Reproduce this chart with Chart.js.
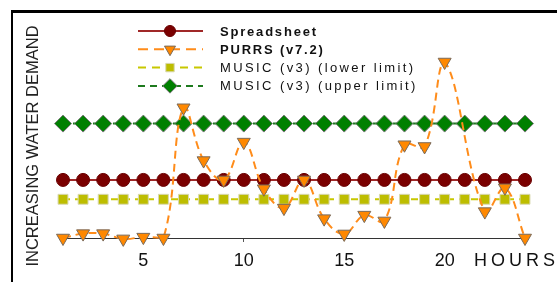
<!DOCTYPE html>
<html>
<head>
<meta charset="utf-8">
<script src="https://cdn.jsdelivr.net/npm/chart.js@4.4.0/dist/chart.umd.min.js"></script>
<style>
  html, body { margin: 0; padding: 0; background: #fff; overflow: hidden; }
  #wrap { position: relative; width: 557px; height: 282px; overflow: hidden; }
  #frame { position: absolute; left: 11px; top: 10px; width: 600px; height: 300px;
           border-left: 2px solid #000; border-top: 3px solid #000; }
  canvas { position: absolute; left: 0; top: 0; }
</style>
</head>
<body>
<div id="wrap">
  <div id="frame"></div>
  <canvas id="demandChart" width="557" height="282"></canvas>
</div>
<script>
// Hours on the x axis
const hours = [1, 2, 3, 4, 5, 6, 7, 8, 9, 10, 11, 12, 13, 14, 15, 16, 17, 18, 19, 20, 21, 22, 23, 24];
const xTickLabels = [5, 10, 15, 20];

// Relative water demand (no units in the source, 0 = baseline)
const spreadsheet = [33, 33, 33, 33, 33, 33, 33, 33, 33, 33, 33, 33, 33, 33, 33, 33, 33, 33, 33, 33, 33, 33, 33, 33];
const purrs = [0, 2.5, 2.5, -0.5, 0.5, 0, 74, 44, 33, 54.5, 28, 17, 33, 11, 2.3, 13, 9.7, 53, 52, 100, null, 15, 28.5, 0];
const musicLower = [22, 22, 22, 22, 22, 22, 22, 22, 22, 22, 22, 22, 22, 22, 22, 22, 22, 22, 22, 22, 22, 22, 22, 22];
const musicUpper = [65, 65, 65, 65, 65, 65, 65, 65, 65, 65, 65, 65, 65, 65, 65, 65, 65, 65, 65, 65, 65, 65, 65, 65];

const seriesNames = ['Spreadsheet', 'PURRS (v7.2)', 'MUSIC (v3) (lower limit)', 'MUSIC (v3) (upper limit)'];
const yTitle = 'INCREASING WATER DEMAND';
const xTitle = 'HOURS';

const FONT = '"Liberation Sans", Arial, sans-serif';

// draws the stacked legend, the rotated y title and the HOURS label
const annotate = {
    id: 'annotate',
    afterDraw(chart) {
        const ctx = chart.ctx;
        const drawPoint = Chart.helpers && Chart.helpers.drawPoint;

        // legend rows
        chart.data.datasets.forEach((ds, i) => {
            const y = 31 + i * 18.3;
            ctx.save();
            ctx.strokeStyle = ds.borderColor;
            ctx.lineWidth = 2;
            ctx.setLineDash(ds.legendDash);
            ctx.beginPath();
            ctx.moveTo(138, y);
            ctx.lineTo(203, y);
            ctx.stroke();
            ctx.setLineDash([]);
            ctx.fillStyle = ds.pointBackgroundColor;
            ctx.strokeStyle = ds.pointBorderColor;
            ctx.lineWidth = ds.pointBorderWidth;
            if (drawPoint) {
                drawPoint(ctx, {
                    pointStyle: ds.pointStyle,
                    rotation: ds.pointRotation || 0,
                    radius: ds.pointRadius * 0.85,
                    borderWidth: ds.pointBorderWidth
                }, 170, y);
            }
            const bold = ds.legendBold;
            ctx.fillStyle = '#111';
            ctx.font = (bold ? 'bold ' : '') + '13px ' + FONT;
            ctx.textAlign = 'left';
            ctx.textBaseline = 'middle';
            ctx.letterSpacing = bold ? '1.8px' : '2.4px';
            ctx.fillText(ds.label, 220, y + 1);
            ctx.restore();
        });

        // y axis title
        ctx.save();
        ctx.fillStyle = '#222';
        ctx.font = '16.5px ' + FONT;
        ctx.textAlign = 'center';
        ctx.textBaseline = 'middle';
        ctx.translate(33, 146);
        ctx.rotate(-Math.PI / 2);
        ctx.fillText(yTitle, 0, 0);
        ctx.restore();

        // x axis title, right of the last tick
        ctx.save();
        ctx.fillStyle = '#111';
        ctx.font = '18px ' + FONT;
        ctx.textAlign = 'left';
        ctx.textBaseline = 'middle';
        ctx.letterSpacing = '4px';
        ctx.fillText(xTitle, 474, 261);
        ctx.restore();
    }
};

new Chart(document.getElementById('demandChart'), {
    type: 'line',
    data: {
        labels: hours,
        datasets: [
            {
                label: seriesNames[0],
                data: spreadsheet,
                borderColor: '#a02828',
                borderWidth: 2,
                legendDash: [],
                legendBold: true,
                pointStyle: 'circle',
                pointRadius: 6.5,
                pointBackgroundColor: '#7a0000',
                pointBorderColor: '#6a0000',
                pointBorderWidth: 1,
                order: 3
            },
            {
                label: seriesNames[1],
                data: purrs,
                borderColor: '#ff8c1a',
                borderWidth: 2,
                borderDash: [8, 5],
                legendDash: [10, 6],
                legendBold: true,
                tension: 0.4,
                spanGaps: true,
                pointStyle: 'triangle',
                pointRotation: 180,
                rotation: 180,
                pointRadius: 7.5,
                pointBackgroundColor: '#ff8800',
                pointBorderColor: '#7a6a5a',
                pointBorderWidth: 1,
                order: 0
            },
            {
                label: seriesNames[2],
                data: musicLower,
                borderColor: '#c8c800',
                borderWidth: 2,
                borderDash: [7, 5],
                legendDash: [8, 6],
                pointStyle: 'rect',
                pointRadius: 7,
                pointBackgroundColor: '#bdbd00',
                pointBorderColor: '#d8d8b0',
                pointBorderWidth: 1,
                order: 2
            },
            {
                label: seriesNames[3],
                data: musicUpper,
                borderColor: '#1e7a1e',
                borderWidth: 2,
                borderDash: [6, 4],
                legendDash: [7, 5],
                pointStyle: 'rectRot',
                pointRadius: 8.5,
                pointBackgroundColor: '#008000',
                pointBorderColor: '#777',
                pointBorderWidth: 1,
                order: 1
            }
        ]
    },
    options: {
        responsive: false,
        animation: false,
        devicePixelRatio: 1,
        clip: false,
        layout: { padding: { left: 63, right: 32, top: 62, bottom: 0 } },
        plugins: {
            legend: { display: false },
            tooltip: { enabled: false }
        },
        scales: {
            x: {
                type: 'linear',
                min: 1,
                max: 24,
                afterFit: (scale) => { scale.height = 44; },
                afterBuildTicks: (scale) => {
                    scale.ticks = xTickLabels.map(v => ({ value: v }));
                },
                border: { display: true, color: '#333', width: 1 },
                grid: {
                    drawOnChartArea: false,
                    drawTicks: true,
                    tickLength: 4,
                    color: (c) => (c.tick && c.tick.value === 10 ? '#555' : 'rgba(0,0,0,0)')
                },
                ticks: {
                    autoSkip: false,
                    maxRotation: 0,
                    padding: 8,
                    color: '#111',
                    font: { family: FONT, size: 18 }
                }
            },
            y: {
                display: false,
                min: 0,
                max: 100
            }
        }
    },
    plugins: [annotate]
});
</script>
</body>
</html>
